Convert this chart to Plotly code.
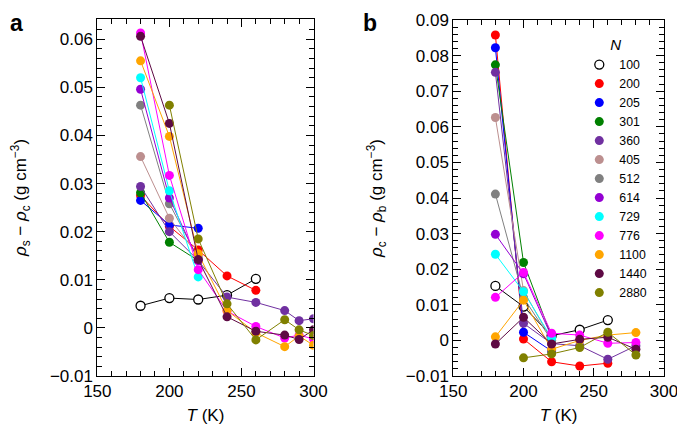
import plotly.graph_objects as go

# ---------------- data ----------------
sizes = ["100", "200", "205", "301", "360", "405", "512", "614", "729", "776", "1100", "1440", "2880"]
colors = ["#000000", "#FF0000", "#0000FF", "#008000", "#7030A0", "#BC8F8F", "#808080",
          "#9400D3", "#00FFFF", "#FF00FF", "#FFA500", "#5E0A44", "#808000"]

T_a = [180, 200, 220, 240, 260, 280, 290, 300]
rho_sc = {
    "100":  [0.0046, 0.0062, 0.0059, 0.0068, 0.0102, None, None, None],
    "200":  [0.0275, 0.0211, 0.0162, 0.0108, 0.0078, None, None, None],
    "205":  [0.0265, 0.0214, 0.0207, None, None, None, None, None],
    "301":  [0.0281, 0.0178, 0.0140, None, None, None, None, None],
    "360":  [0.0294, 0.0200, 0.0140, 0.0064, 0.0053, 0.0036, 0.0015, 0.0019],
    "405":  [0.0356, 0.0228, 0.0150, None, None, None, None, None],
    "512":  [0.0463, 0.0258, 0.0145, None, None, None, None, None],
    "614":  [0.0496, 0.0270, 0.0140, None, None, None, None, None],
    "729":  [0.0520, 0.0285, 0.0106, None, None, None, None, None],
    "776":  [0.0613, 0.0317, 0.0121, 0.0035, 0.0003, -0.0021, -0.0015, -0.0023],
    "1100": [0.0555, 0.0398, 0.0154, 0.0036, -0.0010, -0.0039, -0.0017, -0.0036],
    "1440": [0.0606, 0.0425, 0.0142, 0.0023, -0.0007, -0.0015, -0.0024, -0.0004],
    "2880": [None, 0.0463, 0.0185, 0.0050, -0.0025, 0.0017, -0.0004, -0.0016],
}

T_b = [180, 200, 220, 240, 260, 280]
rho_cb = {
    "100":  [0.0153, 0.0095, 0.0013, 0.0030, 0.0057, None],
    "200":  [0.0858, 0.0004, -0.0060, -0.0072, -0.0064, None],
    "205":  [0.0822, 0.0023, -0.0030, None, None, None],
    "301":  [0.0774, 0.0219, 0.0010, None, None, None],
    "360":  [0.0753, 0.0048, -0.0009, -0.0015, -0.0053, -0.0015],
    "405":  [0.0626, 0.0140, 0.0000, None, None, None],
    "512":  [0.0411, 0.0120, 0.0000, None, None, None],
    "614":  [0.0298, 0.0187, 0.0010, None, None, None],
    "729":  [0.0242, 0.0137, 0.0006, None, None, None],
    "776":  [0.0121, 0.0191, 0.0020, 0.0015, -0.0008, -0.0006],
    "1100": [0.0010, 0.0113, -0.0025, 0.0000, 0.0015, 0.0022],
    "1440": [-0.0010, 0.0065, -0.0010, 0.0003, 0.0009, -0.0025],
    "2880": [None, -0.0049, -0.0038, -0.0020, 0.0023, -0.0041],
}

x_ticks = [150, 200, 250, 300]

# ---------------- figure ----------------
fig = go.Figure()
FONT = "Liberation Sans, Arial, sans-serif"
MS = 9


def marker_for(i):
    if sizes[i] == "100":
        return dict(size=MS, color="white", line=dict(color="black", width=1.3))
    return dict(size=MS, color=colors[i], line=dict(width=0))


for i, n in enumerate(sizes):
    fig.add_trace(go.Scatter(
        x=T_a, y=rho_sc[n], mode="lines+markers", name=n,
        line=dict(color=colors[i], width=1), marker=marker_for(i),
        xaxis="x", yaxis="y", showlegend=False, connectgaps=False))

for i, n in enumerate(sizes):
    fig.add_trace(go.Scatter(
        x=T_b, y=rho_cb[n], mode="lines+markers", name=n,
        line=dict(color=colors[i], width=1), marker=marker_for(i),
        xaxis="x2", yaxis="y2", showlegend=False, connectgaps=False))

# legend entries (markers only, as in the reference)
for i, n in enumerate(sizes):
    fig.add_trace(go.Scatter(
        x=[None], y=[None], mode="markers", name=n, marker=marker_for(i),
        xaxis="x2", yaxis="y2", showlegend=True))

axis_common = dict(
    showline=True, linecolor="black", linewidth=1, mirror="ticks",
    ticks="inside", ticklen=8, tickwidth=1, tickcolor="black",
    showgrid=False, zeroline=False, automargin=False,
    tickfont=dict(family=FONT, size=17, color="black"),
)

fig.update_layout(
    width=685, height=435,
    margin=dict(l=0, r=0, t=0, b=0),
    paper_bgcolor="white", plot_bgcolor="white",
    font=dict(family=FONT, color="black"),
    xaxis=dict(domain=[0.1304, 0.446], range=[150, 300], tickvals=x_ticks,
               minor=dict(dtick=10, ticks="inside", ticklen=5, tickcolor="black"),
               title=dict(text="<i>T</i> (K)", font=dict(size=17), standoff=8),
               anchor="y", **axis_common),
    yaxis=dict(domain=[0.154, 0.9747], range=[-0.01, 0.0642], dtick=0.01, tick0=0,
               minor=dict(dtick=0.002, ticks="inside", ticklen=5, tickcolor="black"),
               title=dict(text="<i>ρ</i><sub>s</sub> − <i>ρ</i><sub>c</sub> (g cm<sup>−3</sup>)",
                          font=dict(size=17), standoff=23),
               anchor="x", **axis_common),
    xaxis2=dict(domain=[0.650, 0.9577], range=[150, 300], tickvals=x_ticks,
                minor=dict(dtick=10, ticks="inside", ticklen=5, tickcolor="black"),
                title=dict(text="<i>T</i> (K)", font=dict(size=17), standoff=8),
                anchor="y2", **axis_common),
    yaxis2=dict(domain=[0.154, 0.9724], range=[-0.01, 0.09], dtick=0.01, tick0=0,
                minor=dict(dtick=0.002, ticks="inside", ticklen=5, tickcolor="black"),
                title=dict(text="<i>ρ</i><sub>c</sub> − <i>ρ</i><sub>b</sub> (g cm<sup>−3</sup>)",
                           font=dict(size=17), standoff=18),
                anchor="x2", **axis_common),
    legend=dict(x=0.834, y=0.948, xanchor="left", yanchor="top",
                bgcolor="rgba(0,0,0,0)", tracegroupgap=0,
                font=dict(family=FONT, size=12.3, color="black"),
                title=dict(text="<i>N</i>", side="top center",
                           font=dict(family=FONT, size=15, color="black"))),
    annotations=[
        dict(text="<b>a</b>", x=0.0, y=1.0, xref="paper", yref="paper",
             xanchor="left", yanchor="top", showarrow=False,
             font=dict(family=FONT, size=23, color="black")),
        dict(text="<b>b</b>", x=0.516, y=1.0, xref="paper", yref="paper",
             xanchor="left", yanchor="top", showarrow=False,
             font=dict(family=FONT, size=23, color="black")),
    ],
)

fig.write_html("out.html")
